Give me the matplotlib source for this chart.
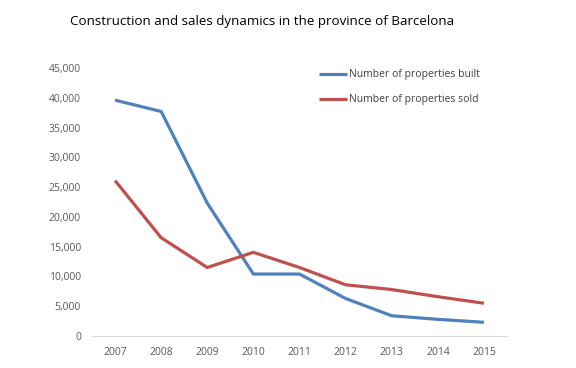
import matplotlib
matplotlib.use('Agg')
import matplotlib.pyplot as plt
from matplotlib.ticker import FuncFormatter

years = ['2007', '2008', '2009', '2010', '2011', '2012', '2013', '2014', '2015']
built = [39600, 37700, 22300, 10400, 10400, 6300, 3400, 2800, 2300]
sold = [26100, 16500, 11500, 14050, 11500, 8600, 7800, 6600, 5500]

plt.rcParams['font.family'] = ['Open Sans', 'DejaVu Sans']

fig = plt.figure(figsize=(5.76, 3.68), dpi=100)
ax = fig.add_axes([92 / 576, (368 - 336) / 368, (507 - 92) / 576, (336 - 68) / 368])

x = range(len(years))
ax.plot(x, built, color='#4F81BD', lw=2.3, label='Number of properties built', solid_capstyle='butt')
ax.plot(x, sold, color='#C0504D', lw=2.3, label='Number of properties sold', solid_capstyle='butt')

ax.set_xlim(-0.5, len(years) - 0.5)
ax.set_ylim(0, 45000)
ax.set_yticks(range(0, 45001, 5000))
ax.yaxis.set_major_formatter(FuncFormatter(lambda v, p: f'{int(v):,}'))
ax.set_xticks(list(x))
ax.set_xticklabels(years)

for s in ['top', 'right', 'left']:
    ax.spines[s].set_visible(False)
ax.spines['bottom'].set_color('#d9d9d9')
ax.tick_params(axis='both', length=0, labelsize=7.5, colors='#595959')
ax.tick_params(axis='x', pad=8)
ax.tick_params(axis='y', pad=8)

ax.legend(loc='upper left', bbox_to_anchor=(0.525, 1.03), frameon=False, fontsize=7.5,
          handlelength=2.7, handletextpad=0.2, labelspacing=1.35, labelcolor='#404040')

fig.text(262 / 576, 1 - 22 / 368, 'Construction and sales dynamics in the province of Barcelona',
         ha='center', va='center', fontsize=9.6, color='#000000')

fig.savefig('out.png', dpi=100)
